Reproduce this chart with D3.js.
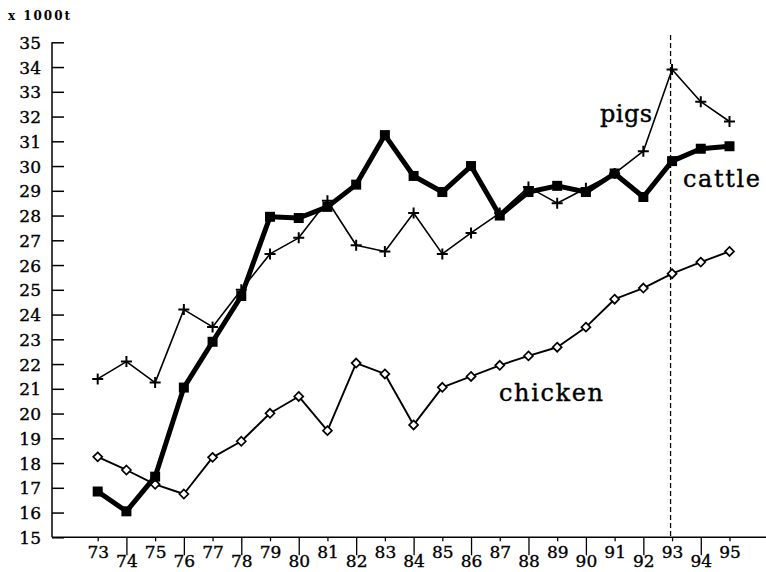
<!DOCTYPE html>
<html>
<head>
<meta charset="utf-8">
<script src="https://cdn.jsdelivr.net/npm/d3@7"></script>
<style>
  html, body { margin: 0; padding: 0; background: #fff; }
  svg { display: block; }
  text { font-family: "DejaVu Serif", "Liberation Serif", serif; fill: #000; }
</style>
</head>
<body>
<svg id="chart" width="766" height="572"></svg>
<script>
const years = [73,74,75,76,77,78,79,80,81,82,83,84,85,86,87,88,89,90,91,92,93,94,95];
const pigs = [21.4,22.1,21.25,24.2,23.5,25.0,26.45,27.1,28.6,26.8,26.55,28.1,26.45,27.3,28.1,29.15,28.5,29.1,29.7,30.6,33.9,32.6,31.8];
const cattle = [16.85,16.05,17.45,21.05,22.9,24.75,27.95,27.9,28.35,29.25,31.25,29.6,28.95,30.0,28.0,28.95,29.2,28.95,29.7,28.75,30.2,30.7,30.8];
const chicken = [18.25,17.72,17.14,16.75,18.23,18.88,20.01,20.69,19.31,22.04,21.6,19.54,21.06,21.5,21.95,22.33,22.68,23.49,24.62,25.07,25.65,26.12,26.55];
const yTicks = [15,16,17,18,19,20,21,22,23,24,25,26,27,28,29,30,31,32,33,34,35];
const unitLabel = "x 1000t";
const markerYear = 93;

const svg = d3.select("#chart");
const x = d3.scaleLinear().domain([73, 95]).range([97.7, 729.5]);
const y = d3.scaleLinear().domain([15, 35]).range([537.3, 42.3]);
const axisX0 = 52;

// y axis
const yAxis = d3.axisLeft(y).tickValues(yTicks).tickFormat(d3.format("d")).tickSizeInner(-12).tickSizeOuter(0).tickPadding(11);
const gy = svg.append("g").attr("transform", `translate(${axisX0},0)`).call(yAxis);
gy.select(".domain").remove();
gy.selectAll(".tick line").attr("stroke", "#000").attr("stroke-width", 1.5);
gy.selectAll(".tick text").attr("font-size", 17).attr("font-family", "DejaVu Serif")
  .attr("stroke", "#000").attr("stroke-width", 0.35).attr("dy", "0.36em");
svg.append("line").attr("x1", axisX0).attr("x2", axisX0).attr("y1", y(35)).attr("y2", y(15))
  .attr("stroke", "#000").attr("stroke-width", 1.5);

// x axis
const xAxis = d3.axisBottom(x).tickValues(years).tickFormat(d3.format("d")).tickSizeOuter(0);
const gx = svg.append("g").attr("transform", `translate(0,${y(15)})`).call(xAxis);
gx.select(".domain").remove();
gx.selectAll(".tick line").attr("stroke", "#000").attr("stroke-width", 1.3)
  .attr("y2", d => (d % 2 === 0) ? 18 : 4);
gx.selectAll(".tick text").attr("font-size", 17).attr("font-family", "DejaVu Serif")
  .attr("stroke", "#000").attr("stroke-width", 0.35)
  .attr("dy", null)
  .attr("y", d => (d % 2 === 0) ? 30 : 20.5);
svg.append("line").attr("x1", axisX0).attr("x2", 766).attr("y1", y(15)).attr("y2", y(15))
  .attr("stroke", "#000").attr("stroke-width", 1.5);

// unit label
svg.append("text").attr("x", 8).attr("y", 20).attr("font-size", 12).attr("font-weight", "bold")
  .attr("textLength", 62).attr("lengthAdjust", "spacing").text(unitLabel);

// dashed vertical line at 93
svg.append("line").attr("x1", x(markerYear) - 1.5).attr("x2", x(markerYear) - 1.5)
  .attr("y1", 35).attr("y2", y(15))
  .attr("stroke", "#000").attr("stroke-width", 1.3).attr("stroke-dasharray", "5,3");

const line = d3.line().x((d, i) => x(years[i])).y(d => y(d));

// chicken
svg.append("path").datum(chicken).attr("d", line).attr("fill", "none")
  .attr("stroke", "#000").attr("stroke-width", 1.9).attr("stroke-linejoin", "round");
svg.append("g").selectAll("path").data(chicken).join("path")
  .attr("transform", (d, i) => `translate(${x(years[i])},${y(d)})`)
  .attr("d", "M0,-4.5L4.5,0L0,4.5L-4.5,0Z")
  .attr("fill", "#fff").attr("stroke", "#000").attr("stroke-width", 1.7);

// cattle
svg.append("path").datum(cattle).attr("d", line).attr("fill", "none")
  .attr("stroke", "#000").attr("stroke-width", 5).attr("stroke-linejoin", "round");
svg.append("g").selectAll("rect").data(cattle).join("rect")
  .attr("x", (d, i) => x(years[i]) - 5).attr("y", d => y(d) - 5)
  .attr("width", 10).attr("height", 10).attr("fill", "#000");

// pigs
svg.append("path").datum(pigs).attr("d", line).attr("fill", "none")
  .attr("stroke", "#000").attr("stroke-width", 1.6).attr("stroke-linejoin", "round");
svg.append("g").selectAll("path").data(pigs).join("path")
  .attr("transform", (d, i) => `translate(${x(years[i])},${y(d)})`)
  .attr("d", "M-5.5,0H5.5M0,-5.5V5.5")
  .attr("fill", "none").attr("stroke", "#000").attr("stroke-width", 2);

// series labels
svg.append("text").attr("x", 600).attr("y", 121.5).attr("font-size", 24)
  .attr("stroke", "#000").attr("stroke-width", 0.4)
  .attr("textLength", 52).attr("lengthAdjust", "spacing").text("pigs");
svg.append("text").attr("x", 683).attr("y", 187).attr("font-size", 24)
  .attr("stroke", "#000").attr("stroke-width", 0.4)
  .attr("textLength", 77).attr("lengthAdjust", "spacing").text("cattle");
svg.append("text").attr("x", 499).attr("y", 401).attr("font-size", 24)
  .attr("stroke", "#000").attr("stroke-width", 0.4)
  .attr("textLength", 104).attr("lengthAdjust", "spacing").text("chicken");
</script>
</body>
</html>
